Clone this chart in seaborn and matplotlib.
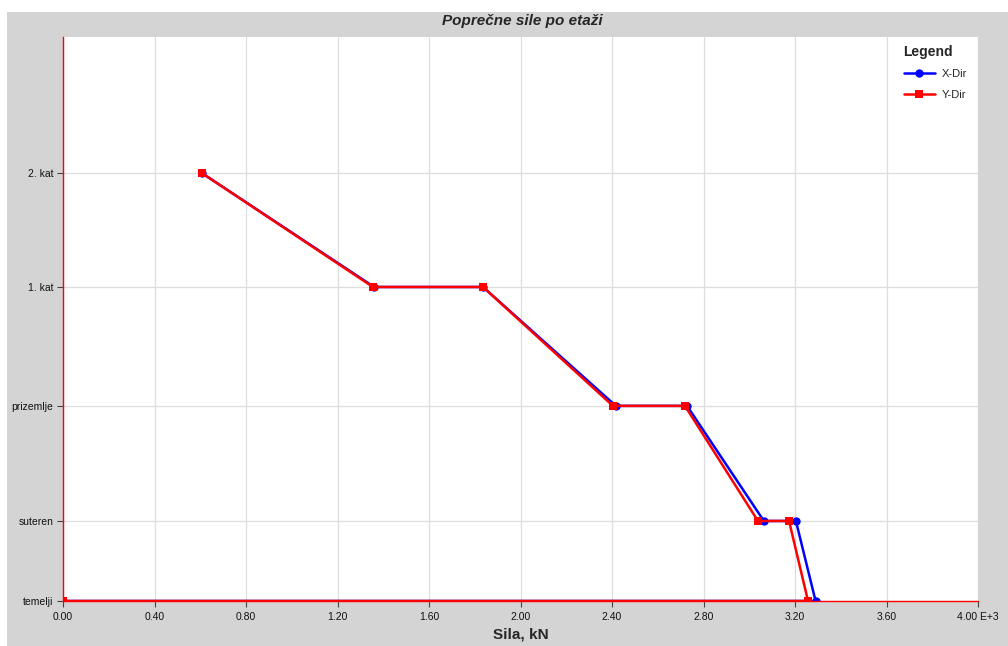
import numpy as np
import pandas as pd
import matplotlib
matplotlib.use("Agg")
import matplotlib.pyplot as plt
import seaborn as sns
from matplotlib.patches import Rectangle


# storey names and their levels
etaze = ['temelji', 'suteren', 'prizemlje', '1. kat', '2. kat']
kote = [0.0, 2.1, 5.12, 8.24, 11.23]

# shear force path per direction (x in E+3 kN), top storey down to base
x_dir = [0.607, 1.36, 1.836, 2.417, 2.728, 3.064, 3.204, 3.29, 0.0]
y_dir = [0.607, 1.355, 1.836, 2.404, 2.719, 3.038, 3.174, 3.257, 0.0]
nivo = [11.23, 8.24, 8.24, 5.12, 5.12, 2.1, 2.1, 0.0, 0.0]

x_ticks = [0.0, 0.4, 0.8, 1.2, 1.6, 2.0, 2.4, 2.8, 3.2, 3.6, 4.0]
x_labels = ['0.00', '0.40', '0.80', '1.20', '1.60', '2.00', '2.40',
            '2.80', '3.20', '3.60', '4.00 E+3']


sns.set_style('white')
plt.rcParams['font.family'] = ['Liberation Sans', 'DejaVu Sans']

fig = plt.figure(figsize=(10.08, 6.46), dpi=100)
# grey panel behind the chart
fig.patches.append(Rectangle((7 / 1008, 0), 1 - 7 / 1008, 1 - 12 / 646,
                             transform=fig.transFigure, facecolor='#d4d4d4',
                             edgecolor='none', zorder=-10))

ax = fig.add_axes([63 / 1008, 45 / 646, 915 / 1008, 564 / 646])
ax.set_facecolor('white')

dfx = pd.DataFrame({'sila': x_dir, 'nivo': nivo})
dfy = pd.DataFrame({'sila': y_dir, 'nivo': nivo})

sns.lineplot(data=dfx, x='sila', y='nivo', sort=False, estimator=None,
             color='#0000ff', marker='o', markersize=6, markeredgewidth=0,
             linewidth=1.8, label='X-Dir', ax=ax)
sns.lineplot(data=dfy, x='sila', y='nivo', sort=False, estimator=None,
             color='#ff0000', marker='s', markersize=5.5, markeredgewidth=0,
             linewidth=1.8, label='Y-Dir', ax=ax)

ax.set_xlim(0, 4.0)
ax.set_ylim(0, 14.8)
ax.set_xticks(x_ticks)
ax.set_xticklabels(x_labels, fontsize=7.5, color='#111111')
ax.set_yticks(kote)
ax.set_yticklabels(etaze, fontsize=7.5, color='#111111')
ax.tick_params(axis='both', bottom=True, left=True, length=4, width=0.8,
               color='#444444', direction='out')
ax.tick_params(axis='x', pad=4)
ax.tick_params(axis='y', pad=3)
ax.grid(True, color='#dddddd', linewidth=0.9)
ax.set_axisbelow(True)

for side in ['top', 'right']:
    ax.spines[side].set_visible(False)
ax.spines['left'].set_color('#ff0000')
ax.spines['bottom'].set_color('#ff0000')
ax.spines['left'].set_linewidth(1)
ax.spines['bottom'].set_linewidth(1)

ax.set_xlabel('Sila, kN', fontsize=11, fontweight='bold', labelpad=4)
ax.set_ylabel('')
fig.text(522 / 1008, 1 - 21 / 646, 'Poprečne sile po etaži', ha='center',
         va='center', fontsize=11, fontweight='bold', fontstyle='italic')

leg = ax.legend(title='Legend', loc='upper right', frameon=True,
                facecolor='white', edgecolor='white', framealpha=1,
                fontsize=8, title_fontproperties={'weight': 'bold', 'size': 10},
                handlelength=2.8, handletextpad=0.6, labelspacing=0.95,
                borderaxespad=0.2, bbox_to_anchor=(0.995, 0.997))
leg._legend_box.align = 'left'
leg._legend_box.sep = 7

fig.savefig('out.png', dpi=100)
